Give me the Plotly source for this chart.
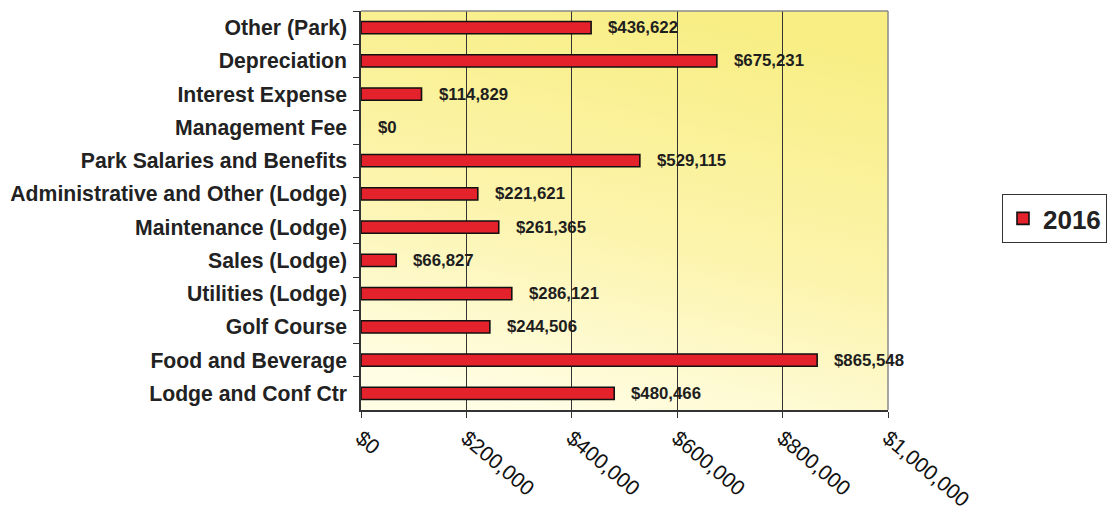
import base64
import plotly.graph_objects as go

categories = [
    "Other (Park)", "Depreciation", "Interest Expense", "Management Fee",
    "Park Salaries and Benefits", "Administrative and Other (Lodge)",
    "Maintenance (Lodge)", "Sales (Lodge)", "Utilities (Lodge)",
    "Golf Course", "Food and Beverage", "Lodge and Conf Ctr",
]
values_2016 = [436622, 675231, 114829, 0, 529115, 221621,
               261365, 66827, 286121, 244506, 865548, 480466]
series_name = "2016"
x_ticks = [0, 200000, 400000, 600000, 800000, 1000000]

FONT = "Liberation Sans, Arial, sans-serif"

svg = (
    '<svg xmlns="http://www.w3.org/2000/svg" width="527" height="399" '
    'preserveAspectRatio="none" viewBox="0 0 527 399">'
    '<defs><linearGradient id="g" x1="0.35" y1="1" x2="0.65" y2="0">'
    '<stop offset="0" stop-color="#FFFDE4"/>'
    '<stop offset="0.45" stop-color="#FCF4AC"/>'
    '<stop offset="1" stop-color="#F8EE84"/>'
    '</linearGradient></defs>'
    '<rect width="527" height="399" fill="url(#g)"/></svg>'
)
svg_uri = "data:image/svg+xml;base64," + base64.b64encode(svg.encode()).decode()

outline_widths = [0 if v == 0 else 1.6 for v in values_2016]

fig = go.Figure()
fig.add_trace(go.Bar(
    x=values_2016, y=categories, orientation="h", name=series_name,
    width=0.37,
    marker=dict(color="#E3222B", line=dict(color="#111111", width=outline_widths)),
    showlegend=True,
))

for v, c in zip(values_2016, categories):
    fig.add_annotation(
        x=v, y=c, text="${:,.0f}".format(v), showarrow=False,
        xanchor="left", yanchor="middle", xshift=15,
        font=dict(family=FONT, size=16.8, color="#1e1e1e", weight="bold"),
    )

fig.update_layout(
    template="none",
    width=1109, height=516,
    margin=dict(l=361, r=221, t=11, b=106, pad=0, autoexpand=False),
    paper_bgcolor="white",
    plot_bgcolor="rgba(0,0,0,0)",
    font=dict(family=FONT, color="#222222"),
    images=[dict(source=svg_uri, xref="paper", yref="paper", x=0, y=1,
                 sizex=1, sizey=1, sizing="stretch", layer="below",
                 xanchor="left", yanchor="top")],
    xaxis=dict(
        range=[0, 1000000], tickvals=x_ticks, tickformat="$,.0f",
        tickangle=40, showgrid=True, gridcolor="#333333", gridwidth=1.2,
        zeroline=False, showline=True, linecolor="#333333", linewidth=1.5,
        mirror=False, ticks="outside", ticklen=6, tickcolor="#333333",
        tickfont=dict(family=FONT, size=21, color="#111111"),
        automargin=False,
    ),
    yaxis=dict(
        autorange="reversed", showgrid=False, zeroline=False,
        showline=True, linecolor="#333333", linewidth=1.5,
        ticks="outside", tickson="boundaries", ticklen=6, tickcolor="#333333",
        tickfont=dict(family=FONT, size=21.2, color="#222222", weight="bold"),
        ticklabelstandoff=8,
        automargin=False,
    ),
    legend=dict(
        x=1.2163, y=0.5414, xanchor="left", yanchor="top",
        bordercolor="#333333", borderwidth=1, bgcolor="white",
        font=dict(family=FONT, size=26, color="#222222", weight="bold"),
        itemwidth=30,
    ),
)

# top and right frame of the plot area
fig.add_shape(type="line", xref="paper", yref="paper", x0=0, x1=1, y0=1, y1=1,
              line=dict(color="#8a8a8a", width=1.5))
fig.add_shape(type="line", xref="paper", yref="paper", x0=1, x1=1, y0=0, y1=1,
              line=dict(color="#8a8a8a", width=1.5))

fig.write_html("out.html")
